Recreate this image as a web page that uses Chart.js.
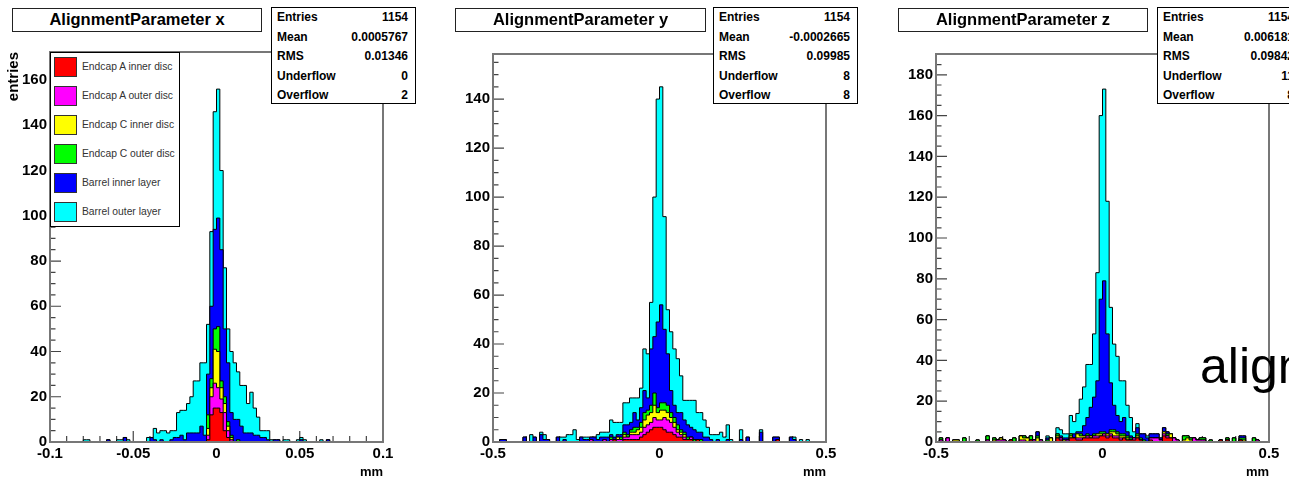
<!DOCTYPE html>
<html>
<head>
<meta charset="utf-8">
<script src="https://cdn.jsdelivr.net/npm/chart.js@4.4.1/dist/chart.umd.min.js"></script>
<style>
  html, body { margin: 0; padding: 0; background: #fff; }
  body { width: 1289px; height: 480px; overflow: hidden; position: relative;
         font-family: "Liberation Sans", Arial, Helvetica, sans-serif; }
  canvas { position: absolute; top: 0; }
  .title { position: absolute; top: 8px; height: 24px; box-sizing: border-box; border: 1px solid #222;
           background: #fff; font-weight: bold; font-size: 16.5px; line-height: 21px; text-align: center; }
  .stats { position: absolute; top: 7px; width: 145px; height: 97px; box-sizing: border-box;
           border: 1px solid #000; background: #fff; font-weight: bold; font-size: 12px; padding: 0 7px 0 5px; }
  .stats div { display: flex; justify-content: space-between; height: 19.5px; line-height: 19.5px; white-space: nowrap; }
  .legend { position: absolute; left: 50px; top: 52px; width: 130px; height: 175px; box-sizing: border-box;
            border: 1px solid #000; background: #fff; }
  .legend .sw { position: absolute; left: 3px; width: 23px; height: 20px; box-sizing: border-box; border: 1px solid #333; }
  .legend .lt { position: absolute; left: 31px; font-size: 10.3px; line-height: 20px; color: #333; white-space: nowrap; }
  .big { position: absolute; left: 1200px; top: 341px; font-size: 50px; line-height: 50px; white-space: nowrap; color: #000; }
</style>
</head>
<body>
<canvas id="cx" width="440" height="480" style="left:0px"></canvas>
<canvas id="cy" width="440" height="480" style="left:440px"></canvas>
<canvas id="cz" width="409" height="480" style="left:880px"></canvas>

<div class="title" style="left:12px;width:250px">AlignmentParameter x</div>
<div class="title" style="left:455px;width:251px">AlignmentParameter y</div>
<div class="title" style="left:898px;width:250px">AlignmentParameter z</div>

<div class="stats" id="sx" style="left:271px"></div>
<div class="stats" id="sy" style="left:713px"></div>
<div class="stats" id="sz" style="left:1157px"></div>

<div class="legend" id="legend"></div>
<div class="big">alignment</div>

<script>
// series in stacking order (bottom first)
const seriesNames = ['Endcap A inner disc', 'Endcap A outer disc', 'Endcap C inner disc',
                     'Endcap C outer disc', 'Barrel inner layer', 'Barrel outer layer'];
const seriesColors = ['#ff0000', '#ff00ff', '#ffff00', '#00ff00', '#0000ff', '#00ffff'];

// stats boxes
const statLabels = ['Entries', 'Mean', 'RMS', 'Underflow', 'Overflow'];
const statsX = ['1154', '0.0005767', '0.01346', '0', '2'];
const statsY = ['1154', '-0.0002665', '0.09985', '8', '8'];
const statsZ = ['1154', '0.006181', '0.09842', '11', '8'];

// tick labels
const xTicksX = [-0.1, -0.05, 0, 0.05, 0.1];
const xTicksYZ = [-0.5, 0, 0.5];
const yTicksX = [0, 20, 40, 60, 80, 100, 120, 140, 160];
const yTicksY = [0, 20, 40, 60, 80, 100, 120, 140];
const yTicksZ = [0, 20, 40, 60, 80, 100, 120, 140, 160, 180];

// 100 bins per histogram; x: -0.1..0.1 mm, y and z: -0.5..0.5 mm
const xRed = [
  0,0,0,0,0,0,0,0,0,0, 0,0,0,0,0,0,0,0,0,0, 0,0,0,0,0,0,0,0,0,0, 0,0,0,0,0,0,0,0,0,0,
  0,0,0,0,0,0,0,1,12,15, 15,13,5,2,0,0,0,0,0,0,
  0,0,0,0,0,0,0,0,0,0, 0,0,0,0,0,0,0,0,0,0, 0,0,0,0,0,0,0,0,0,0, 0,0,0,0,0,0,0,0,0,0];
const xMag = [
  0,0,0,0,0,0,0,0,0,0, 0,0,0,0,0,0,0,0,0,0, 0,0,0,0,0,0,0,0,0,0, 0,0,0,0,0,0,0,0,0,0,
  0,0,0,0,0,0,0,2,8,11, 9,6,8,3,1,0,0,0,0,0,
  0,0,0,0,0,0,0,0,0,0, 0,0,0,0,0,0,0,0,0,0, 0,0,0,0,0,0,0,0,0,0, 0,0,0,0,0,0,0,0,0,0];
const xYel = [
  0,0,0,0,0,0,0,0,0,0, 0,0,0,0,0,0,0,0,0,0, 0,0,0,0,0,0,0,0,0,0, 0,0,0,0,0,0,0,0,0,0,
  0,0,0,0,0,0,0,3,4,15, 16,5,4,2,1,0,0,0,0,0,
  0,0,0,0,0,0,0,0,0,0, 0,0,0,0,0,0,0,0,0,0, 0,0,0,0,0,0,0,0,0,0, 0,0,0,0,0,0,0,0,0,0];
const xGrn = [
  0,0,0,0,0,0,0,0,0,0, 0,0,0,0,0,0,0,0,0,0, 0,0,0,0,0,0,0,0,0,0, 0,0,0,0,0,0,0,0,0,0,
  0,0,0,0,0,0,0,6,4,9, 11,3,3,2,1,0,1,0,0,0,
  0,0,0,0,0,0,0,0,0,0, 0,0,0,0,0,0,0,0,0,0, 0,0,0,0,0,0,0,0,0,0, 0,0,0,0,0,0,0,0,0,0];
const xBin = [
  0,0,0,0,0,0,0,0,0,0, 0,0,0,0,0,0,0,1,0,0, 0,0,2,0,0,0,0,0,0,0, 2,1,0,1,0,0,1,2,2,3,
  1,4,4,4,4,7,3,18,32,44, 48,58,30,26,10,10,9,7,4,4,
  4,3,3,2,2,1,0,1,1,0, 0,0,0,0,0,1,0,0,0,0, 0,0,0,1,0,0,0,0,0,0, 0,0,0,0,0,0,0,0,0,0];
const xBout = [
  0,0,0,0,0,0,0,0,0,0, 1,1,0,0,0,0,0,0,0,0, 1,1,0,1,0,0,0,0,0,2, 0,5,4,4,5,4,4,3,11,11,
  13,13,16,23,23,28,32,22,33,52, 57,35,27,15,27,25,21,18,21,13,
  18,12,8,3,3,4,1,0,0,0, 1,1,0,0,1,1,1,0,0,0, 0,1,0,0,0,0,0,0,0,0, 0,0,0,0,0,0,0,0,0,0];

const yRed = [
  0,0,0,0,0,0,0,0,0,0, 0,0,0,0,0,0,0,0,0,0, 0,0,0,0,0,0,0,0,0,0, 0,0,0,0,0,0,1,0,0,1,
  1,1,1,1,2,3,4,5,6,6, 6,5,4,4,3,2,2,1,1,1,
  0,1,0,0,0,0,0,0,0,0, 0,0,0,0,0,0,0,0,0,0, 0,0,0,0,0,1,0,0,0,0, 0,0,0,0,0,0,0,0,0,0];
const yMag = [
  0,0,0,0,0,0,0,0,0,0, 0,0,0,0,0,0,0,0,0,0, 0,0,0,0,0,0,0,0,0,1, 0,0,0,1,0,1,0,1,1,1,
  1,2,2,2,2,3,3,3,4,3, 3,5,5,4,3,2,1,1,0,1,
  0,0,0,0,0,0,0,0,0,0, 0,0,0,0,0,0,0,0,0,0, 0,0,0,0,0,0,0,0,0,0, 0,0,0,0,0,0,0,0,0,0];
const yYel = [
  0,0,0,0,0,0,0,0,0,0, 0,0,0,0,0,0,0,0,0,0, 0,0,0,0,0,0,0,0,0,0, 0,0,0,0,0,0,0,1,0,1,
  0,1,1,2,2,3,4,4,5,3, 4,3,3,2,2,1,1,1,0,0,
  0,0,0,0,0,0,0,0,0,0, 0,0,0,0,0,0,0,0,0,0, 0,0,0,0,0,0,0,0,0,0, 0,0,0,0,0,0,0,0,0,0];
const yGrn = [
  0,0,0,0,0,0,0,0,0,0, 0,0,0,0,0,0,0,0,0,0, 0,0,0,0,0,0,0,0,0,0, 0,0,0,0,0,1,0,0,1,1,
  1,1,2,1,2,3,2,3,5,2, 3,3,3,2,2,2,1,1,1,0,
  1,0,1,0,0,0,0,0,0,0, 0,0,0,0,0,0,0,0,0,0, 0,0,0,0,0,0,0,0,0,0, 0,0,0,0,0,0,0,0,0,0];
const yBin = [
  0,0,1,1,0,0,0,0,0,2, 0,0,2,0,3,1,1,0,0,2, 0,1,0,0,0,0,2,1,1,1, 2,1,2,1,2,1,1,1,1,3,
  4,3,6,3,6,9,5,23,23,35, 40,30,21,9,5,5,7,5,5,4,
  4,3,3,2,2,1,0,1,0,0, 1,0,0,0,1,0,2,0,0,0, 4,0,0,0,2,1,0,0,0,2, 1,0,0,0,0,0,0,0,0,0];
const yBout = [
  0,0,0,0,0,0,0,0,0,0, 0,3,0,0,1,2,0,0,0,0, 2,1,3,3,5,1,0,1,1,0, 0,2,2,2,2,6,6,5,5,9,
  9,10,6,9,8,17,18,19,57,91, 89,46,18,24,23,22,15,8,10,11,
  12,8,8,7,4,2,3,2,4,2, 6,1,0,0,4,0,0,0,0,0, 1,0,0,0,0,0,0,0,0,0, 1,0,1,0,1,0,0,0,0,0];

const zRed = [
  0,0,0,0,0,0,0,0,0,0, 0,0,0,0,0,0,0,0,0,0, 0,0,1,0,0,0,0,0,1,0, 0,0,0,0,0,0,2,1,0,0,
  2,2,1,1,2,2,2,2,2,3, 3,2,3,2,2,1,2,1,1,1,
  2,1,0,0,1,0,0,0,3,2, 2,0,0,0,0,0,0,0,0,0, 0,0,0,0,0,1,0,1,0,0, 0,1,0,0,0,0,0,0,0,0];
const zMag = [
  0,1,0,2,0,0,0,0,0,0, 0,0,0,0,0,1,0,0,1,1, 1,0,0,0,0,1,1,0,0,1, 0,1,0,0,0,0,0,1,0,1,
  0,0,1,1,0,1,0,1,1,0, 1,1,1,1,1,1,0,0,0,1,
  0,0,0,0,1,2,2,1,1,1, 0,2,1,0,0,0,0,2,1,1, 1,0,0,0,0,0,0,0,0,0, 0,0,0,0,0,0,1,0,0,0];
const zYel = [
  0,0,0,0,0,1,1,0,0,0, 0,0,0,0,0,0,0,1,0,1, 0,0,0,0,0,2,1,2,0,0, 2,0,0,0,2,0,1,0,1,0,
  1,0,2,1,1,0,1,0,1,1, 0,1,1,2,1,1,1,1,0,0,
  1,0,0,0,0,0,0,0,1,0, 2,0,0,0,1,2,1,0,0,0, 0,0,0,0,0,0,0,0,0,0, 0,0,1,0,0,0,0,0,0,0];
const zGrn = [
  0,1,0,0,0,0,0,0,2,0, 0,0,1,0,0,2,0,1,0,0, 0,0,0,2,0,0,1,0,2,0, 1,0,0,1,0,0,1,0,0,0,
  1,0,0,1,0,1,0,1,0,1, 1,0,1,1,1,1,1,1,1,0,
  1,1,1,0,0,0,0,0,0,1, 0,0,0,0,2,1,1,0,0,1, 1,0,1,0,0,0,0,1,0,2, 0,1,1,0,0,2,0,0,0,0];
const zBin = [
  0,0,0,0,0,0,0,0,0,0, 0,0,0,0,0,0,0,0,0,0, 0,0,0,0,0,0,0,0,0,0, 2,0,0,1,0,0,0,1,1,1,
  0,2,1,1,5,8,14,18,26,65, 74,49,23,12,8,6,8,2,1,0,
  3,2,3,2,2,2,2,1,2,1, 0,0,0,0,0,0,0,0,0,0, 0,0,0,0,0,0,0,0,0,0, 0,1,1,0,0,0,0,0,0,0];
const zBout = [
  0,0,0,0,0,0,0,0,0,0, 0,0,0,0,0,0,0,0,0,0, 0,0,0,0,0,0,0,0,0,0, 0,0,0,1,0,0,3,3,2,2,
  9,6,9,16,19,26,21,31,53,90, 94,65,37,30,29,20,18,13,9,3,
  2,0,0,1,0,0,0,0,0,0, 0,0,0,0,0,0,0,0,0,0, 0,0,0,0,0,0,0,0,0,0, 0,0,0,0,0,0,0,0,0,0];

const FONT = '"Liberation Sans", Arial, Helvetica, sans-serif';
const fmt = v => String(+Number(v).toFixed(6));

// stats boxes + legend as html
function fillStats(id, values) {
  document.getElementById(id).innerHTML = statLabels
    .map((l, i) => '<div><span>' + l + '</span><span>' + values[i] + '</span></div>').join('');
}
fillStats('sx', statsX);
fillStats('sy', statsY);
fillStats('sz', statsZ);

document.getElementById('legend').innerHTML = seriesNames.map((n, k) =>
  '<span class="sw" style="top:' + (4 + 29 * k) + 'px;background:' + seriesColors[k] + '"></span>' +
  '<span class="lt" style="top:' + (4 + 29 * k) + 'px">' + n + '</span>').join('');

// histogram -> step points at the low edge of each bin
function stepPoints(counts, lo, hi) {
  const w = (hi - lo) / counts.length;
  const pts = counts.map((c, i) => ({x: lo + i * w, y: c}));
  pts.push({x: hi, y: 0});
  return pts;
}

// ROOT-like frame with inward ticks
const rootFrame = {
  id: 'rootFrame',
  beforeDatasetsDraw(chart, args, o) {
    const {ctx, chartArea: a, scales: {x, y}} = chart;
    ctx.save();
    ctx.strokeStyle = '#444';
    ctx.lineWidth = 1.2;
    ctx.beginPath();
    for (let k = 0; k * o.yMinor <= y.max + 1e-9; k++) {
      const py = y.getPixelForValue(k * o.yMinor);
      const len = k % o.yDiv === 0 ? 11 : 5.5;
      ctx.moveTo(a.left, py);
      ctx.lineTo(a.left + len, py);
    }
    const n = Math.round((x.max - x.min) / o.xMinor);
    for (let k = 0; k <= n; k++) {
      const px = x.getPixelForValue(x.min + k * o.xMinor);
      const len = k % o.xDiv === 0 ? 11 : 6;
      ctx.moveTo(px, a.bottom);
      ctx.lineTo(px, a.bottom - len);
    }
    ctx.stroke();
    ctx.restore();
  },
  afterDatasetsDraw(chart) {
    const {ctx, chartArea: a} = chart;
    ctx.save();
    ctx.strokeStyle = '#777';
    ctx.lineWidth = 2;
    ctx.strokeRect(a.left, a.top, a.right - a.left, a.bottom - a.top);
    ctx.restore();
  }
};

function makeChart(p) {
  new Chart(document.getElementById(p.id), {
    type: 'line',
    data: {
      datasets: p.bins.map((b, k) => ({
        label: seriesNames[k],
        data: stepPoints(b, p.lo, p.hi),
        backgroundColor: seriesColors[k],
        borderColor: '#000',
        borderWidth: 1,
        fill: 'origin',
        stepped: 'before',
        pointRadius: 0,
        tension: 0
      }))
    },
    options: {
      responsive: false,
      animation: false,
      events: [],
      layout: {padding: {left: p.pad[0], right: p.pad[1], top: p.pad[2], bottom: 0}},
      scales: {
        x: {
          type: 'linear', min: p.lo, max: p.hi,
          afterBuildTicks: s => { s.ticks = p.xTicks.map(v => ({value: v})); },
          afterFit: s => { s.height = 38; },
          ticks: {callback: fmt, color: '#000', padding: 3, maxRotation: 0, autoSkip: false,
                  font: {family: FONT, size: 15, weight: 'bold'}},
          grid: {display: false, drawTicks: false},
          border: {display: false},
          title: {display: true, text: 'mm', align: 'end', color: '#000', padding: 0,
                  font: {family: FONT, size: 13, weight: 'bold'}}
        },
        y: {
          type: 'linear', stacked: true, min: 0, max: p.yMax,
          afterBuildTicks: s => { s.ticks = p.yTicks.map(v => ({value: v})); },
          afterFit: s => { s.width = 45; },
          ticks: {callback: fmt, color: '#000', padding: 3, autoSkip: false,
                  font: {family: FONT, size: 15, weight: 'bold'}},
          grid: {display: false, drawTicks: false},
          border: {display: false},
          title: {display: !!p.yTitle, text: p.yTitle, align: 'end', color: '#000', padding: 0,
                  font: {family: FONT, size: 15, weight: 'bold'}}
        }
      },
      plugins: {
        legend: {display: false},
        tooltip: {enabled: false},
        rootFrame: {xMinor: p.xMinor, xDiv: 5, yMinor: 5, yDiv: 4}
      }
    },
    plugins: [rootFrame]
  });
}

makeChart({id: 'cx', lo: -0.1, hi: 0.1, yMax: 172.4, xTicks: xTicksX, yTicks: yTicksX, xMinor: 0.01,
           pad: [5, 57, 52], yTitle: 'entries', bins: [xRed, xMag, xYel, xGrn, xBin, xBout]});
makeChart({id: 'cy', lo: -0.5, hi: 0.5, yMax: 158.4, xTicks: xTicksYZ, yTicks: yTicksY, xMinor: 0.1,
           pad: [8, 54, 54], yTitle: '', bins: [yRed, yMag, yYel, yGrn, yBin, yBout]});
makeChart({id: 'cz', lo: -0.5, hi: 0.5, yMax: 190.2, xTicks: xTicksYZ, yTicks: yTicksZ, xMinor: 0.1,
           pad: [11, 20, 54], yTitle: '', bins: [zRed, zMag, zYel, zGrn, zBin, zBout]});
</script>
</body>
</html>
